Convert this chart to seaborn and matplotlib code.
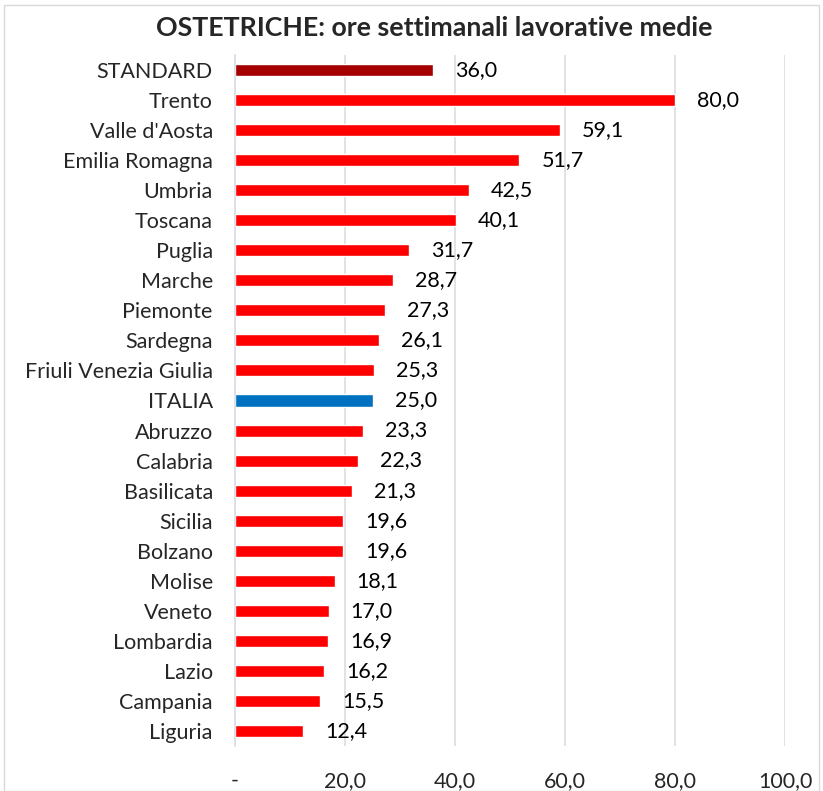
import matplotlib
matplotlib.use("Agg")
import matplotlib.pyplot as plt
import seaborn as sns
import pandas as pd
from matplotlib.patches import Rectangle

regions = ["STANDARD", "Trento", "Valle d'Aosta", "Emilia Romagna", "Umbria", "Toscana",
           "Puglia", "Marche", "Piemonte", "Sardegna", "Friuli Venezia Giulia", "ITALIA",
           "Abruzzo", "Calabria", "Basilicata", "Sicilia", "Bolzano", "Molise", "Veneto",
           "Lombardia", "Lazio", "Campania", "Liguria"]
values = [36.0, 80.0, 59.1, 51.7, 42.5, 40.1, 31.7, 28.7, 27.3, 26.1, 25.3, 25.0,
          23.3, 22.3, 21.3, 19.6, 19.6, 18.1, 17.0, 16.9, 16.2, 15.5, 12.4]
x_ticks = [0, 20, 40, 60, 80, 100]
x_tick_labels = ["-", "20,0", "40,0", "60,0", "80,0", "100,0"]
title = "OSTETRICHE: ore settimanali lavorative medie"

colors = {r: "#FF0000" for r in regions}
colors["STANDARD"] = "#A50000"
colors["ITALIA"] = "#0070C0"

sns.set_theme(style="white")
plt.rcParams['font.family'] = ['Lato', 'DejaVu Sans']

df = pd.DataFrame({"region": regions, "value": values})

fig = plt.figure(figsize=(8.23, 7.91), dpi=100)
ax = fig.add_axes([235/823, 1-746/791, (785-235)/823, (746-55)/791])

sns.barplot(data=df, y="region", x="value", hue="region", palette=colors,
            order=regions, legend=False, width=0.4, ax=ax, saturation=1)

ax.set_xlim(0, 100)
ax.set_ylim(len(regions)-0.5, -0.5)
ax.set_xticks(x_ticks)
ax.set_xticklabels(x_tick_labels, fontsize=15.5)
ax.tick_params(axis='y', labelsize=15.5, length=0, pad=16)
ax.tick_params(axis='x', length=0, pad=18)
ax.set_xlabel("")
ax.set_ylabel("")
ax.xaxis.grid(True, color="#D9DDE3", linewidth=1.2)
ax.set_axisbelow(True)
for s in ["top", "right", "bottom"]:
    ax.spines[s].set_visible(False)
ax.spines["left"].set_color("#D9DDE3")
ax.spines["left"].set_linewidth(1.2)

for i, v in enumerate(values):
    ax.text(v + 4.0, i, f"{v:.1f}".replace(".", ","), va="center", ha="left", fontsize=15.5,
            color="#000000")

fig.text(434/823, 1-28/791, title, ha="center", va="center", fontsize=19.3, fontweight="bold")
fig.patches.append(Rectangle((4/823, 0), 1-8/823, 1-5/791, transform=fig.transFigure,
                             fill=False, edgecolor="#D9D9D9", linewidth=1))

fig.savefig("out.png", dpi=100)
